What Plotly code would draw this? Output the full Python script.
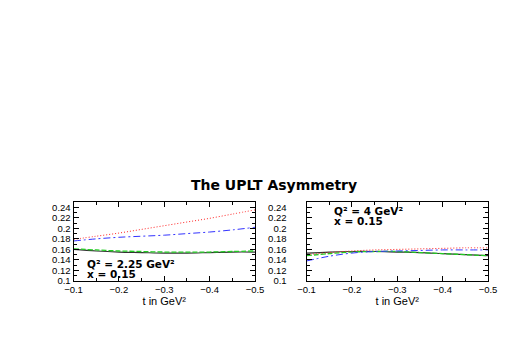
import plotly.graph_objects as go

t = [-0.1, -0.15, -0.2, -0.25, -0.3, -0.35, -0.4, -0.45, -0.5]

# Left panel: Q^2 = 2.25 GeV^2, x = 0.15
left_red = [0.179, 0.185, 0.191, 0.198, 0.205, 0.212, 0.219, 0.227, 0.235]
left_blue = [0.176, 0.180, 0.183, 0.185, 0.187, 0.190, 0.193, 0.197, 0.202]
left_green = [0.161, 0.159, 0.157, 0.156, 0.155, 0.155, 0.155, 0.156, 0.157]
left_black = [0.160, 0.157, 0.155, 0.154, 0.153, 0.153, 0.154, 0.155, 0.155]

# Right panel: Q^2 = 4 GeV^2, x = 0.15
right_red = [0.150, 0.154, 0.157, 0.159, 0.160, 0.161, 0.162, 0.163, 0.163]
right_blue = [0.138, 0.147, 0.153, 0.156, 0.157, 0.158, 0.159, 0.159, 0.159]
right_green = [0.148, 0.152, 0.155, 0.156, 0.156, 0.154, 0.152, 0.150, 0.148]
right_black = [0.153, 0.155, 0.156, 0.156, 0.155, 0.154, 0.152, 0.150, 0.148]

fig = go.Figure()

def add_panel(xa, ya, red, blue, green, black):
    fig.add_trace(go.Scatter(x=t, y=black, mode="lines", xaxis=xa, yaxis=ya,
                             line=dict(color="#333333", width=1.2, dash="solid", shape="spline")))
    fig.add_trace(go.Scatter(x=t, y=green, mode="lines", xaxis=xa, yaxis=ya,
                             line=dict(color="#22cc22", width=1.3, dash="5px,2px", shape="spline")))
    fig.add_trace(go.Scatter(x=t, y=blue, mode="lines", xaxis=xa, yaxis=ya,
                             line=dict(color="#3333ff", width=1, dash="7px,3px,2px,3px", shape="spline")))
    fig.add_trace(go.Scatter(x=t, y=red, mode="lines", xaxis=xa, yaxis=ya,
                             line=dict(color="#ff2222", width=1, dash="1px,2px", shape="spline")))

add_panel("x", "y", left_red, left_blue, left_green, left_black)
add_panel("x2", "y2", right_red, right_blue, right_green, right_black)

W, H = 518, 354
SANS = "Liberation Sans, Arial, sans-serif"
BOLDFAM = "DejaVu Sans, Liberation Sans, sans-serif"
font = dict(family=SANS, size=9.5, color="black")

def xaxis(dom, anchor):
    return dict(domain=dom, anchor=anchor, range=[-0.1, -0.5], dtick=0.1, tick0=-0.1,
                ticks="inside", ticklen=5, mirror="ticks", showline=True, linecolor="black",
                linewidth=1, tickcolor="black", showgrid=False, zeroline=False,
                minor=dict(ticks="inside", ticklen=3, dtick=0.05, tickcolor="black"),
                title=dict(text="t in GeV²", font=dict(family=SANS, size=11, color="black"), standoff=0),
                tickfont=font, ticklabelstandoff=0, automargin=False)

def yaxis(dom, anchor, standoff):
    return dict(domain=dom, anchor=anchor, range=[0.1, 0.25], dtick=0.02, tick0=0.1,
                ticks="inside", ticklen=5, mirror="ticks", showline=True, linecolor="black",
                linewidth=1, tickcolor="black", showgrid=False, zeroline=False,
                minor=dict(ticks="inside", ticklen=3, dtick=0.01, tickcolor="black"),
                tickfont=font, ticklabelstandoff=standoff, automargin=False)

ydom = [1 - 281 / H, 1 - 202 / H]
fig.update_layout(
    width=W, height=H, margin=dict(l=0, r=0, t=0, b=0, autoexpand=False),
    paper_bgcolor="white", plot_bgcolor="white", showlegend=False,
    xaxis=xaxis([73.5 / W, 255 / W], "y"),
    yaxis=yaxis(ydom, "x", 0),
    xaxis2=xaxis([306.5 / W, 488 / W], "y2"),
    yaxis2=yaxis(ydom, "x2", 17),
    title=dict(text="<b>The UPLT Asymmetry</b>", x=274 / W, xanchor="center",
               y=1 - 185 / H, yanchor="middle",
               font=dict(family=BOLDFAM, size=14, color="black")),
)

bold = dict(family=BOLDFAM, size=10.5, color="black")
annos = [
    ("x", "y", -0.1253, 0.1323, "<b>Q² = 2.25 GeV²</b>"),
    ("x", "y", -0.1253, 0.1133, "<b>x = 0.15</b>"),
    ("x2", "y2", -0.1562, 0.2320, "<b>Q² = 4 GeV²</b>"),
    ("x2", "y2", -0.1562, 0.2130, "<b>x = 0.15</b>"),
]
for xr, yr, xv, yv, txt in annos:
    fig.add_annotation(xref=xr, yref=yr, x=xv, y=yv, text=txt, showarrow=False,
                       xanchor="left", yanchor="middle", font=bold)

fig.write_html("out.html", config={"displayModeBar": False},
               post_script="document.body.style.margin='0';")
